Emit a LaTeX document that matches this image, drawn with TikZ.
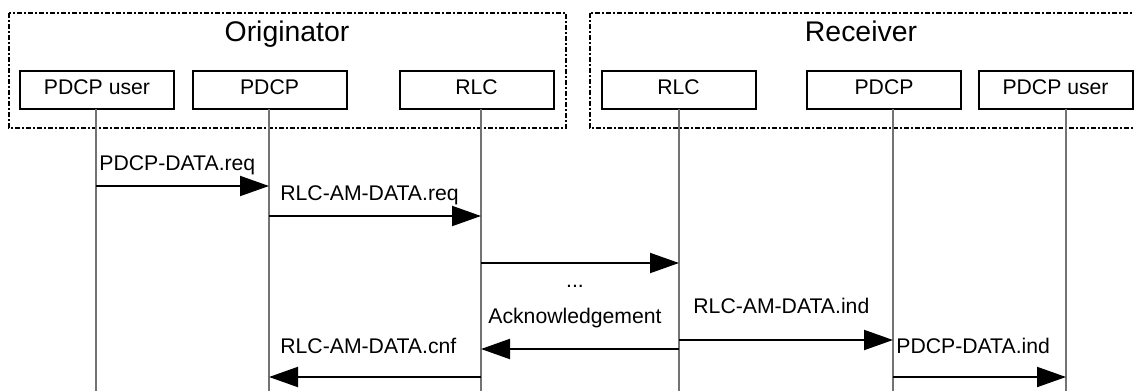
\documentclass[tikz,border=0pt]{standalone}
\usepackage{fontspec}
\setmainfont{Liberation Sans}
\usetikzlibrary{positioning,arrows.meta}

\begin{document}
\begin{tikzpicture}[
  x=0.5pt, y=-0.5pt,
  entity/.style={rectangle, draw=black, line width=1pt, minimum width=77pt, minimum height=19pt,
                 inner sep=0pt, text height=8pt, text depth=3.5pt, font=\fontsize{10.6}{12.7}\selectfont},
  group/.style={draw=black, line width=1pt, dash pattern=on 2.5pt off 1pt on 1pt off 1pt},
  title/.style={anchor=base, inner sep=0pt, font=\fontsize{14.2}{17}\selectfont},
  lifeline/.style={draw=black!55, line width=0.6pt},
  msg/.style={-{Triangle[length=14.5pt, width=10pt]}, line width=1pt},
  msglabel/.style={anchor=base west, inner sep=0pt, font=\fontsize{10.6}{12.7}\selectfont}
]
\useasboundingbox (0,0) rectangle (1134,391);

% Groups
\draw[group] (9,13) rectangle (566,128);
\draw[group] (590,13) rectangle (1140,128);
\node[title] (orig) at (287,41) {Originator};
\node[title] (recv) at (861,41) {Receiver};

% Entities
\node[entity] (userA) at (97,90) {PDCP user};
\node[entity] (pdcpA) at (269.5,90) {PDCP};
\node[entity] (rlcA) at (476.5,90) {RLC};
\node[entity] (rlcB) at (678.5,90) {RLC};
\node[entity] (pdcpB) at (884,90) {PDCP};
\node[entity] (userB) at (1055.5,90) {PDCP user};

% Lifelines
\coordinate (lUserA) at (96,109);
\coordinate (lPdcpA) at (269,109);
\coordinate (lRlcA) at (481,109);
\coordinate (lRlcB) at (679,109);
\coordinate (lPdcpB) at (893,109);
\coordinate (lUserB) at (1066,109);
\foreach \l in {lUserA,lPdcpA,lRlcA,lRlcB,lPdcpB,lUserB}
  \draw[lifeline] (\l) -- (\l |- 0,391);

% Originator side
\draw[msg] (lUserA |- 0,186) -- (lPdcpA |- 0,186);
\node[msglabel] (preq) at (99,170) {PDCP-DATA.req};
\draw[msg] (lPdcpA |- 0,216) -- (lRlcA |- 0,216);
\node[msglabel] (rreq) at (280,200) {RLC-AM-DATA.req};

% RLC to RLC
\draw[msg] (lRlcA |- 0,263) -- (lRlcB |- 0,263);
\node[title, font=\fontsize{10.6}{12.7}\selectfont] (dots) at (575,287) {...};
\node[title, font=\fontsize{10.6}{12.7}\selectfont] (ack) at (575,323) {Acknowledgement};
\draw[msg] (lRlcB |- 0,349) -- (lRlcA |- 0,349);

% Confirmation
\draw[msg] (lRlcA |- 0,377) -- (lPdcpA |- 0,377);
\node[msglabel] (rcnf) at (280,353) {RLC-AM-DATA.cnf};

% Receiver side
\draw[msg] (lRlcB |- 0,340) -- (lPdcpB |- 0,340);
\node[msglabel] (rind) at (693,313) {RLC-AM-DATA.ind};
\draw[msg] (lPdcpB |- 0,377) -- (lUserB |- 0,377);
\node[msglabel] (pind) at (896,353) {PDCP-DATA.ind};

\end{tikzpicture}
\end{document}
